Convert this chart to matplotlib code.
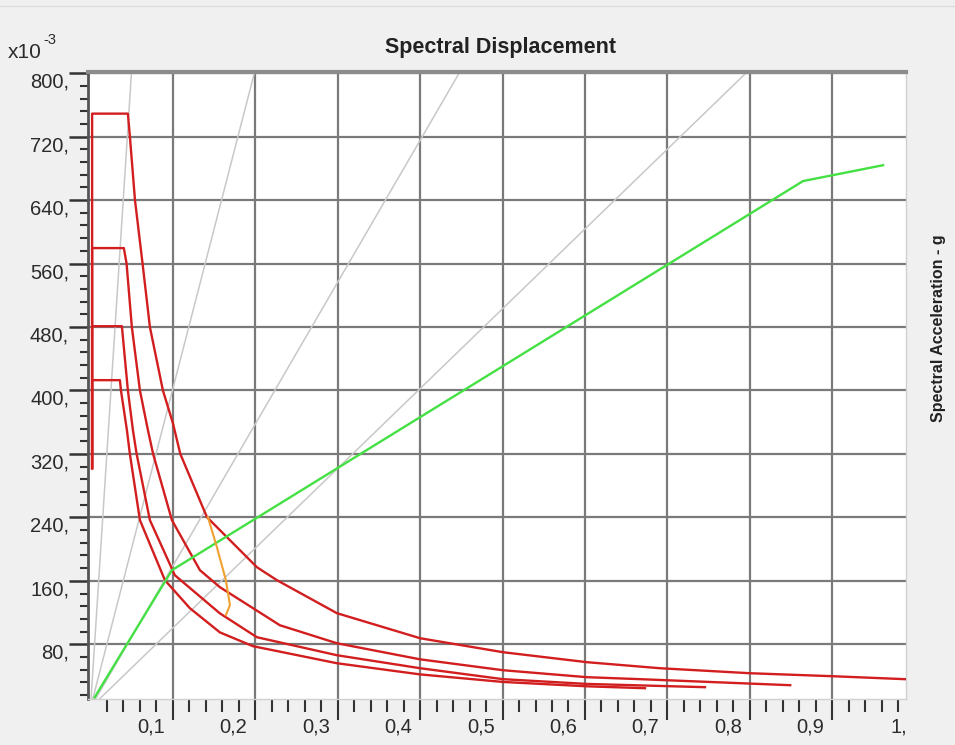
import matplotlib
matplotlib.use('Agg')
import matplotlib.pyplot as plt
import matplotlib.transforms as mtransforms
from matplotlib.lines import Line2D
from matplotlib.ticker import FixedLocator
import numpy as np

plt.rcParams['font.family'] = ['Liberation Sans', 'DejaVu Sans']

# ---------------- data ----------------
# constant-period radial lines (s)
periods = [0.5, 1.0, 1.5, 2.0]
g = 9.81

# capacity curve (Sd, Sa)
capacity_sd = [0.005, 0.0988, 0.8646, 0.9617]
capacity_sa = [0.013, 0.1734, 0.664, 0.684]

# demand spectra (Sd, Sa)
demand1_sd = [0.002, 0.002, 0.0454, 0.048, 0.054, 0.0632, 0.0721, 0.0879, 0.100, 0.109, 0.1413,
              0.2019, 0.2262, 0.299, 0.400, 0.5005, 0.6024, 0.691, 0.800, 0.901, 1.0]
demand1_sa = [0.302, 0.749, 0.749, 0.718, 0.64, 0.56, 0.48, 0.40, 0.3588, 0.32, 0.2403,
              0.1772, 0.1608, 0.1192, 0.0876, 0.070, 0.0574, 0.0498, 0.0435, 0.0397, 0.0355]

demand2_sd = [0.002, 0.002, 0.0405, 0.0438, 0.0502, 0.060, 0.0697, 0.076, 0.0988, 0.1328, 0.157,
              0.2298, 0.299, 0.400, 0.5005, 0.6024, 0.667, 0.849]
demand2_sa = [0.302, 0.5795, 0.5795, 0.56, 0.48, 0.40, 0.35, 0.32, 0.2365, 0.1734, 0.152,
              0.104, 0.0813, 0.061, 0.0473, 0.0385, 0.036, 0.0284]

demand3_sd = [0.002, 0.002, 0.0381, 0.0454, 0.0515, 0.056, 0.0721, 0.1024, 0.157, 0.2019, 0.299,
              0.400, 0.5005, 0.6024, 0.7456]
demand3_sa = [0.302, 0.481, 0.481, 0.40, 0.350, 0.32, 0.2365, 0.167, 0.119, 0.0889, 0.0662,
              0.0498, 0.0360, 0.0300, 0.0259]

demand4_sd = [0.002, 0.002, 0.0357, 0.037, 0.0442, 0.0478, 0.060, 0.0903, 0.1206, 0.157, 0.1971,
              0.299, 0.400, 0.5005, 0.6024, 0.6728]
demand4_sa = [0.302, 0.413, 0.413, 0.40, 0.350, 0.32, 0.2365, 0.1608, 0.1255, 0.095, 0.0776,
              0.0561, 0.042, 0.0325, 0.027, 0.0246]

# performance point locus
locus_sd = [0.1425, 0.1534, 0.1643, 0.1692, 0.1643]
locus_sa = [0.2403, 0.2024, 0.1608, 0.1293, 0.1167]

# ticks
x_ticks = [0.1, 0.2, 0.3, 0.4, 0.5, 0.6, 0.7, 0.8, 0.9, 1.0]
x_tick_labels = ['0,1', '0,2', '0,3', '0,4', '0,5', '0,6', '0,7', '0,8', '0,9', '1,']
y_ticks = [0.08, 0.16, 0.24, 0.32, 0.40, 0.48, 0.56, 0.64, 0.72, 0.80]
y_tick_labels = ['80,', '160,', '240,', '320,', '400,', '480,', '560,', '640,', '720,', '800,']

# ---------------- figure ----------------
W, H = 955, 745
fig = plt.figure(figsize=(W / 100, H / 100), dpi=100, facecolor='#f0f0f0')
ax = fig.add_axes([88 / W, 1 - 699 / H, (906 - 88) / W, (699 - 72) / H])
ax.set_facecolor('white')
ax.set_xlim(-0.003, 0.9895)
ax.set_ylim(0.011, 0.8015)

# top strip of window
fig.add_artist(Line2D([0, 1], [1 - 6 / H, 1 - 6 / H], transform=fig.transFigure, color='#dcdcdc', lw=1))

# radial period lines
for T in periods:
    ratio = 4 * np.pi ** 2 / (T ** 2 * g)
    ax.plot([0, 1.2], [0, 1.2 * ratio], color='#c8c8c8', lw=1.1, zorder=2)

red = '#d21e1e'
for sd, sa in [(demand1_sd, demand1_sa), (demand2_sd, demand2_sa),
               (demand3_sd, demand3_sa), (demand4_sd, demand4_sa)]:
    ax.plot(sd, sa, color=red, lw=1.7, zorder=3, solid_joinstyle='round')

ax.plot(capacity_sd, capacity_sa, color='#44e044', lw=1.7, zorder=4)
ax.plot(locus_sd, locus_sa, color='#f0a030', lw=1.5, zorder=4)

# grid & ticks
ax.set_xticks([t for t in x_ticks if t < 0.99])
ax.xaxis.set_minor_locator(FixedLocator([round(0.02 * i, 2) for i in range(1, 50) if i % 5 != 0]))
ax.set_yticks(y_ticks)
ax.yaxis.set_minor_locator(FixedLocator([round(0.016 * i, 3) for i in range(1, 51) if i % 5 != 0]))
ax.set_xticklabels([])
ax.set_yticklabels([])
ax.grid(which='major', color='#7a7a7a', lw=1.6, zorder=1)
ax.set_axisbelow(True)
ax.tick_params(axis='x', which='major', direction='out', length=15, width=1.5, color='#333333')
ax.tick_params(axis='x', which='minor', direction='out', length=9, width=1.5, color='#333333')
ax.tick_params(axis='y', which='major', direction='out', length=14, width=1.8, color='#333333')
ax.tick_params(axis='y', which='minor', direction='out', length=6, width=1.5, color='#333333')

for s in ['right', 'bottom']:
    ax.spines[s].set_color('#d0d0d0')
    ax.spines[s].set_linewidth(1)
ax.spines['left'].set_color('#555555')
ax.spines['left'].set_linewidth(2)
ax.spines['top'].set_color('#8c8c8c')
ax.spines['top'].set_linewidth(3)

txt_color = '#2b2b2b'
xtrans = mtransforms.offset_copy(mtransforms.blended_transform_factory(ax.transData, ax.transAxes),
                                 fig=fig, x=-8, y=-28, units='dots')
for v, s in zip(x_ticks, x_tick_labels):
    ax.text(v, 0, s, transform=xtrans, ha='right', va='center', fontsize=14.5,
            color=txt_color, clip_on=False)
ytrans = mtransforms.offset_copy(mtransforms.blended_transform_factory(ax.transAxes, ax.transData),
                                 fig=fig, x=-19, y=-9, units='dots')
for v, s in zip(y_ticks, y_tick_labels):
    ax.text(0, v, s, transform=ytrans, ha='right', va='center', fontsize=14.5,
            color=txt_color, clip_on=False)

fig.text(500 / W, 1 - 47 / H, 'Spectral Displacement', ha='center', va='center',
         fontsize=15.5, fontweight='bold', color='#222222')
fig.text(938 / W, 1 - 328 / H, 'Spectral Acceleration - g', ha='center', va='center',
         rotation=90, fontsize=11.5, fontweight='bold', color='#222222')
fig.text(8 / W, 1 - 53 / H, 'x10', ha='left', va='center', fontsize=15, color=txt_color)
fig.text(43 / W, 1 - 40 / H, '-3', ha='left', va='center', fontsize=10.5, color=txt_color)

fig.savefig('out.png', dpi=100, facecolor=fig.get_facecolor())
